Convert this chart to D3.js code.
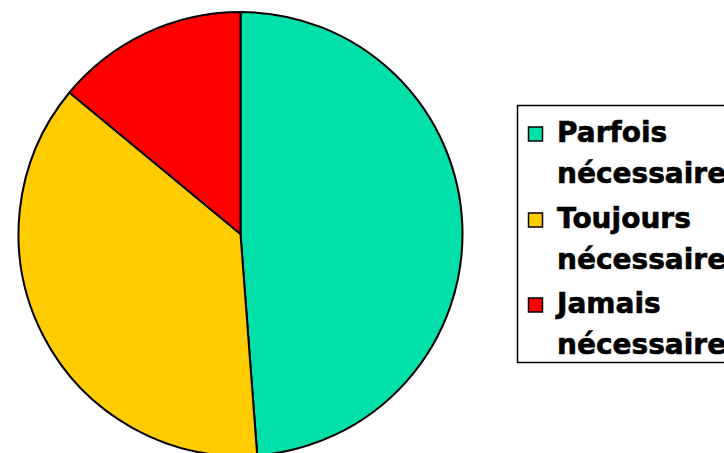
<!DOCTYPE html>
<html>
<head>
<meta charset="utf-8">
<script src="https://cdn.jsdelivr.net/npm/d3@7"></script>
<style>
  html, body { margin: 0; padding: 0; background: #fff; }
  svg { display: block; }
</style>
</head>
<body>
<svg id="chart" width="724" height="453"></svg>
<script>
// Share of answers per category (percent)
const categories = ["Parfois nécessaire", "Toujours nécessaire", "Jamais nécessaire"];
const legendLines = [["Parfois", "nécessaire"], ["Toujours", "nécessaire"], ["Jamais", "nécessaire"]];
const values = [48.8, 37.2, 14.0];
const colors = ["#00E0A8", "#FFCC00", "#FF0000"];

const svg = d3.select("#chart");
const cx = 240.5, cy = 234, radius = 222;

const pie = d3.pie().sort(null).value(d => d)(values);
const arc = d3.arc().innerRadius(0).outerRadius(radius);
const color = d3.scaleOrdinal().domain(categories).range(colors);

svg.append("g")
  .attr("transform", `translate(${cx},${cy})`)
  .selectAll("path")
  .data(pie)
  .join("path")
  .attr("d", arc)
  .attr("fill", (d, i) => color(categories[i]))
  .attr("stroke", "#000")
  .attr("stroke-width", 2)
  .attr("stroke-linejoin", "round");

// Legend (the box runs past the right edge of the drawing)
const legend = svg.append("g");
legend.append("rect")
  .attr("x", 517.5).attr("y", 105.5)
  .attr("width", 260).attr("height", 257)
  .attr("fill", "#fff")
  .attr("stroke", "#000")
  .attr("stroke-width", 1.5);

const baselines = [142, 228, 313];
const items = legend.selectAll("g.item")
  .data(categories)
  .join("g")
  .attr("class", "item")
  .attr("transform", (d, i) => `translate(0,${baselines[i]})`);

items.append("rect")
  .attr("x", 528.5).attr("y", -15)
  .attr("width", 14).attr("height", 14)
  .attr("fill", d => color(d))
  .attr("stroke", "#000")
  .attr("stroke-width", 1.5);

items.append("text")
  .attr("x", 557)
  .attr("y", 0)
  .style("font-family", "Verdana, 'DejaVu Sans', sans-serif")
  .style("font-weight", "bold")
  .style("font-size", "28px")
  .attr("fill", "#000")
  .attr("stroke", "#000")
  .attr("stroke-width", 0.6)
  .selectAll("tspan")
  .data((d, i) => legendLines[i])
  .join("tspan")
  .attr("x", 557)
  .attr("dy", (d, j) => j === 0 ? 0 : 41)
  .text(d => d);
</script>
</body>
</html>
